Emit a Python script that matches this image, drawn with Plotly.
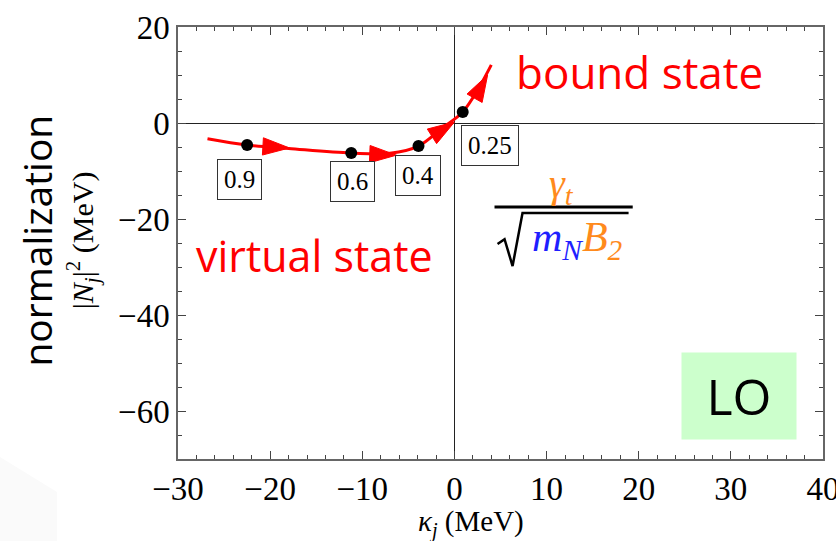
import plotly.graph_objects as go

# Trajectory of the pole: kappa_j (MeV) vs normalization |N_j|^2 (MeV)
curve_kappa = [-26.8, -22.5, -18.0, -11.2, -7.0, -3.9, -1.3, 0.9, 2.7, 4.0]
curve_norm = [-3.3, -4.6, -5.3, -6.25, -6.3, -4.8, -1.0, 2.3, 7.5, 12.1]

# Marked points along the trajectory with their parameter values
point_kappa = [-22.5, -11.2, -3.9, 0.9]
point_norm = [-4.6, -6.25, -4.8, 2.3]
point_labels = ["0.9", "0.6", "0.4", "0.25"]
label_kappa = [-23.3, -11.1, -4.0, 3.9]
label_norm = [-11.7, -12.1, -11.0, -4.6]

# Direction arrows: (tail, tip) pairs sitting on the curve
arrow_tail_kappa = [-21.5, -9.0, -1.8, 2.2]
arrow_tail_norm = [-4.8, -6.5, -2.0, 5.2]
arrow_tip_kappa = [-17.9, -6.3, 0.0, 3.6]
arrow_tip_norm = [-5.2, -6.7, 0.2, 10.0]

x_ticks = [-30, -20, -10, 0, 10, 20, 30, 40]
y_ticks = [-60, -40, -20, 0, 20]

RED = "#ff0000"
ORANGE = "#ff8a1c"
BLUE = "#1f1fff"
SERIF = "Liberation Serif"
SANS = "Open Sans"

fig = go.Figure()

fig.add_trace(go.Scatter(
    x=curve_kappa, y=curve_norm, mode="lines",
    line=dict(color=RED, width=3, shape="spline", smoothing=1.0),
    hoverinfo="skip", showlegend=False,
))

# arrowheads oriented along each tail->tip segment
ax_pts, ay_pts, sizes = [], [], []
for tk, tn, hk, hn in zip(arrow_tail_kappa, arrow_tail_norm, arrow_tip_kappa, arrow_tip_norm):
    ax_pts += [tk, hk]
    ay_pts += [tn, hn]
    sizes += [0, 28]
fig.add_trace(go.Scatter(
    x=ax_pts, y=ay_pts, mode="markers",
    marker=dict(symbol="arrow", size=sizes, color=RED, opacity=1,
                angleref="previous", line=dict(width=1, color=RED)),
    opacity=1, hoverinfo="skip", showlegend=False,
))

fig.add_trace(go.Scatter(
    x=point_kappa, y=point_norm, mode="markers",
    marker=dict(color="black", size=12),
    hoverinfo="skip", showlegend=False,
))

for k, n, t in zip(label_kappa, label_norm, point_labels):
    fig.add_annotation(
        x=k, y=n, text=t, showarrow=False,
        font=dict(family=SERIF, size=25, color="black"),
        bgcolor="white", bordercolor="#333", borderwidth=1, borderpad=6,
    )

axis_common = dict(
    showgrid=False, zeroline=True, zerolinecolor="#222", zerolinewidth=1,
    showline=True, linecolor="#666", linewidth=1.5, mirror="ticks",
    ticks="inside", ticklen=8, tickwidth=1, tickcolor="#444",
    tickfont=dict(family=SERIF, size=33, color="black"),
    ticklabeloverflow="allow", automargin=False,
)

fig.update_xaxes(
    range=[-30, 40.0001], tickvals=x_ticks,
    minor=dict(dtick=2, ticks="inside", ticklen=4, tickcolor="#444", showgrid=False),
    **axis_common,
)
fig.update_yaxes(
    range=[-70, 20.0001], tickvals=y_ticks,
    minor=dict(dtick=5, ticks="inside", ticklen=4, tickcolor="#444", showgrid=False),
    **axis_common,
)

# axis titles
fig.add_annotation(
    xref="paper", yref="paper", x=0.454, y=-0.15, xanchor="center", yanchor="middle",
    text="<i>κ<sub>j</sub></i> (MeV)", showarrow=False,
    font=dict(family=SERIF, size=29, color="black"),
)
fig.add_annotation(
    xref="paper", yref="paper", x=-0.147, y=0.507, xanchor="center", yanchor="middle",
    textangle=-90,
    text="|<i>N<sub>j</sub></i>|<sup>2</sup> (MeV)", showarrow=False,
    font=dict(family=SERIF, size=30, color="black"),
)
fig.add_annotation(
    xref="paper", yref="paper", x=-0.219, y=0.505, xanchor="center", yanchor="middle",
    textangle=-90,
    text="normalization", showarrow=False,
    font=dict(family=SANS, size=39, color="black"),
)

# region labels
fig.add_annotation(
    x=20.1, y=10.6, text="bound state", showarrow=False,
    font=dict(family=SANS, size=44, color=RED),
)
fig.add_annotation(
    x=-15.2, y=-27.5, text="virtual state", showarrow=False,
    font=dict(family=SANS, size=43, color=RED),
)

# LO badge
fig.add_annotation(
    x=30.9, y=-56.8, text="LO", showarrow=False, width=112, height=84,
    bgcolor="#ccffcc", font=dict(family=SANS, size=50, color="black"),
)

# gamma_t / sqrt(m_N B_2)
fig.add_annotation(
    x=11.6, y=-13.1, text="<i>γ<sub>t</sub></i>", showarrow=False,
    font=dict(family=SERIF, size=40, color=ORANGE),
)
fig.add_shape(type="line", x0=4.35, x1=19.35, y0=-17.5, y1=-17.5,
              line=dict(color="black", width=3))
# radical sign with its overbar
fig.add_shape(
    type="path",
    path="M 4.68,-25.2 L 5.44,-24.2 L 6.31,-29.8 L 7.39,-18.75 L 18.9,-18.75",
    line=dict(color="black", width=2.5),
)
fig.add_annotation(
    x=13.36, y=-24.4,
    text=(f"<i><span style='color:{BLUE}'>m<sub>N</sub></span>"
          f"<span style='color:{ORANGE}'>B<sub>2</sub></span></i>"),
    showarrow=False, font=dict(family=SERIF, size=42, color=BLUE),
)

# faint shading in the lower-left corner of the page
fig.add_shape(
    type="path", xref="paper", yref="paper", layer="below",
    path="M -0.276,0.0046 L -0.1876,-0.0764 L -0.1876,-0.19 L -0.276,-0.19 Z",
    fillcolor="#fafafa", line=dict(width=0),
)

fig.update_layout(
    width=836, height=541,
    margin=dict(l=178, r=13, t=27, b=82, autoexpand=False),
    paper_bgcolor="white", plot_bgcolor="white",
    showlegend=False,
)

fig.write_html("out.html")
